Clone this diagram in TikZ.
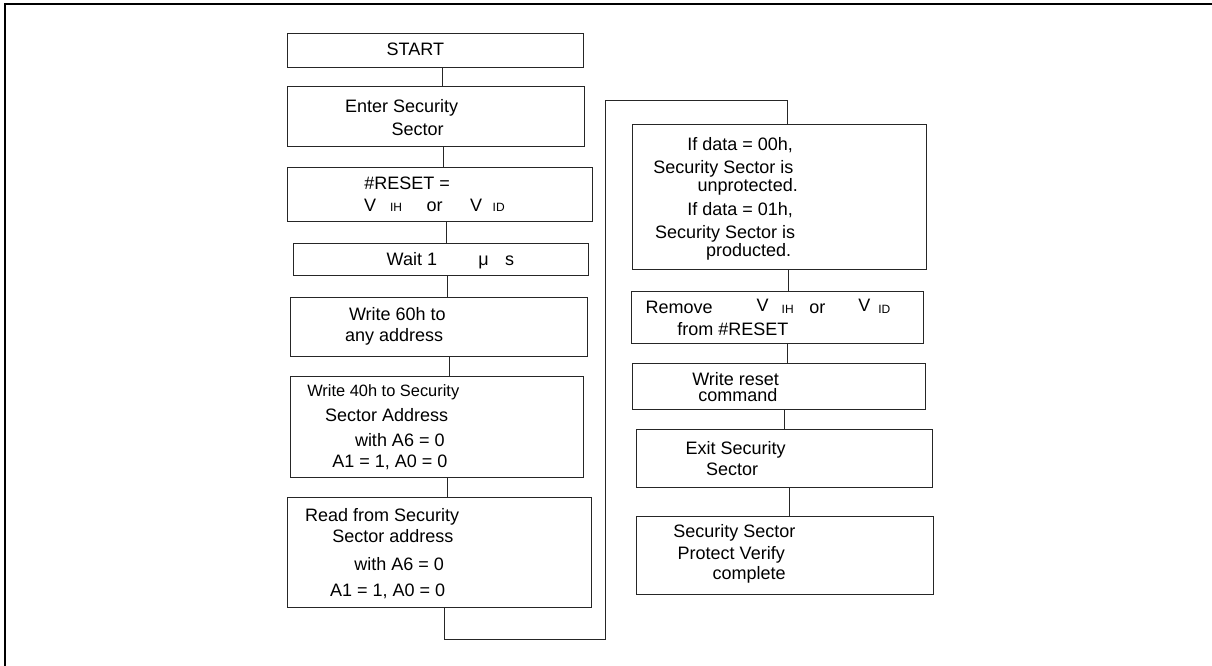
\documentclass[tikz,border=0pt]{standalone}
\usepackage{fontspec}
\setmainfont{Liberation Sans}
\tikzset{
  box/.style={draw=black!85, line width=0.9pt, rectangle, inner sep=0pt},
  txt/.style={anchor=base west, inner sep=0pt, outer sep=0pt, font=\fontsize{18}{22}\selectfont},
  stxt/.style={anchor=base west, inner sep=0pt, outer sep=0pt, font=\fontsize{16.4}{20}\selectfont},
  sub/.style={anchor=base west, inner sep=0pt, outer sep=0pt, font=\fontsize{12}{14}\selectfont},
  link/.style={draw=black!85, line width=0.8pt},
}
\begin{document}
\begin{tikzpicture}[x=1pt,y=-1pt]
\useasboundingbox (0,0) rectangle (1212,665);
% outer frame
\draw[line width=2pt] (5,666) -- (5,4.3) -- (1213,4.3);

% left column boxes
\node[box, minimum width=296pt, minimum height=34pt] (start) at (435,50) {};
\node[box, minimum width=297pt, minimum height=60pt] (enter) at (435.5,116) {};
\node[box, minimum width=305pt, minimum height=54pt] (reset) at (439.5,194) {};
\node[box, minimum width=295pt, minimum height=32pt] (wait) at (440.5,259) {};
\node[box, minimum width=297pt, minimum height=59pt] (w60) at (438.5,326.5) {};
\node[box, minimum width=293pt, minimum height=101pt] (w40) at (436.5,426.5) {};
\node[box, minimum width=304pt, minimum height=110pt] (read) at (439,552) {};

% right column boxes
\node[box, minimum width=294pt, minimum height=145pt] (ifdata) at (779,196.5) {};
\node[box, minimum width=292pt, minimum height=52pt] (remove) at (777,317) {};
\node[box, minimum width=293pt, minimum height=46pt] (wreset) at (778.5,386) {};
\node[box, minimum width=296pt, minimum height=58pt] (exit) at (784,458) {};
\node[box, minimum width=297pt, minimum height=78pt] (verify) at (784.5,555) {};

% texts
\node[txt] (t1) at (386.7,55.7) {START};
\node[txt] (t2) at (345,112.3) {Enter Security};
\node[txt] (t3) at (391.7,135) {Sector};
\node[txt] (t4) at (364.3,189.3) {\#RESET =};
\node[txt] (t5) at (364,211) {V};
\node[sub] (t6) at (390,211) {IH};
\node[txt] (t7) at (426.7,211) {or};
\node[txt] (t8) at (470,211) {V};
\node[sub] (t9) at (492.7,211) {ID};
\node[txt] (t10) at (386.7,265) {Wait 1};
\node[txt] (t11) at (478.3,265) {μ};
\node[txt] (t12) at (505,265) {s};
\node[txt] (t13) at (349,320) {Write 60h to};
\node[txt] (t14) at (345,341.7) {any address};
\node[stxt] (t15) at (307.3,396.7) {Write 40h to Security};
\node[txt] (t16) at (325,421.7) {Sector Address};
\node[txt] (t17) at (355,446.7) {with A6 = 0};
\node[txt] (t18) at (332.3,467.3) {A1 = 1, A0 = 0};
\node[txt] (t19) at (305,521) {Read from Security};
\node[txt] (t20) at (332.3,542.7) {Sector address};
\node[txt] (t21) at (354.3,570.7) {with A6 = 0};
\node[txt] (t22) at (330,596.7) {A1 = 1, A0 = 0};

\node[txt] (t23) at (687.3,150) {If data = 00h,};
\node[txt] (t24) at (653.3,173.3) {Security Sector is};
\node[txt] (t25) at (697.7,191.7) {unprotected.};
\node[txt] (t26) at (687.3,215) {If data = 01h,};
\node[txt] (t27) at (655,238.3) {Security Sector is};
\node[txt] (t28) at (706,256.7) {producted.};
\node[txt] (t29) at (645.7,313.3) {Remove};
\node[txt] (t30) at (756.7,311.7) {V};
\node[sub] (t31) at (781.7,313) {IH};
\node[txt] (t32) at (809.3,313) {or};
\node[txt] (t33) at (858.3,311.7) {V};
\node[sub] (t34) at (878.3,313) {ID};
\node[txt] (t35) at (677.3,335) {from \#RESET};
\node[txt] (t36) at (692.3,385) {Write reset};
\node[txt] (t37) at (698.3,401.7) {command};
\node[txt] (t38) at (685.7,454) {Exit Security};
\node[txt] (t39) at (706,475.7) {Sector};
\node[txt] (t40) at (673.3,537.7) {Security Sector};
\node[txt] (t41) at (677.7,559.3) {Protect Verify};
\node[txt] (t42) at (712.7,579) {complete};

% connector x positions
\coordinate (c1) at (442,0);
\coordinate (c2) at (443,0);
\coordinate (c3) at (446,0);
\coordinate (c4) at (447,0);
\coordinate (c5) at (449,0);
\coordinate (c6) at (447,0);
\coordinate (c7) at (444,0);
\coordinate (d1) at (788,0);
\coordinate (d2) at (787,0);
\coordinate (d3) at (784,0);
\coordinate (d4) at (789,0);
\coordinate (k1) at (444,639);
\coordinate (k2) at (605,639);
\coordinate (k3) at (605,100);
\coordinate (k4) at (787,100);

\draw[link] (start.south -| c1) -- (enter.north -| c1);
\draw[link] (enter.south -| c2) -- (reset.north -| c2);
\draw[link] (reset.south -| c3) -- (wait.north -| c3);
\draw[link] (wait.south -| c4) -- (w60.north -| c4);
\draw[link] (w60.south -| c5) -- (w40.north -| c5);
\draw[link] (w40.south -| c6) -- (read.north -| c6);
\draw[link] (read.south -| c7) -- (k1) -- (k2) -- (k3) -- (k4) -- (ifdata.north -| k4);
\draw[link] (ifdata.south -| d1) -- (remove.north -| d1);
\draw[link] (remove.south -| d2) -- (wreset.north -| d2);
\draw[link] (wreset.south -| d3) -- (exit.north -| d3);
\draw[link] (exit.south -| d4) -- (verify.north -| d4);
\end{tikzpicture}
\end{document}
